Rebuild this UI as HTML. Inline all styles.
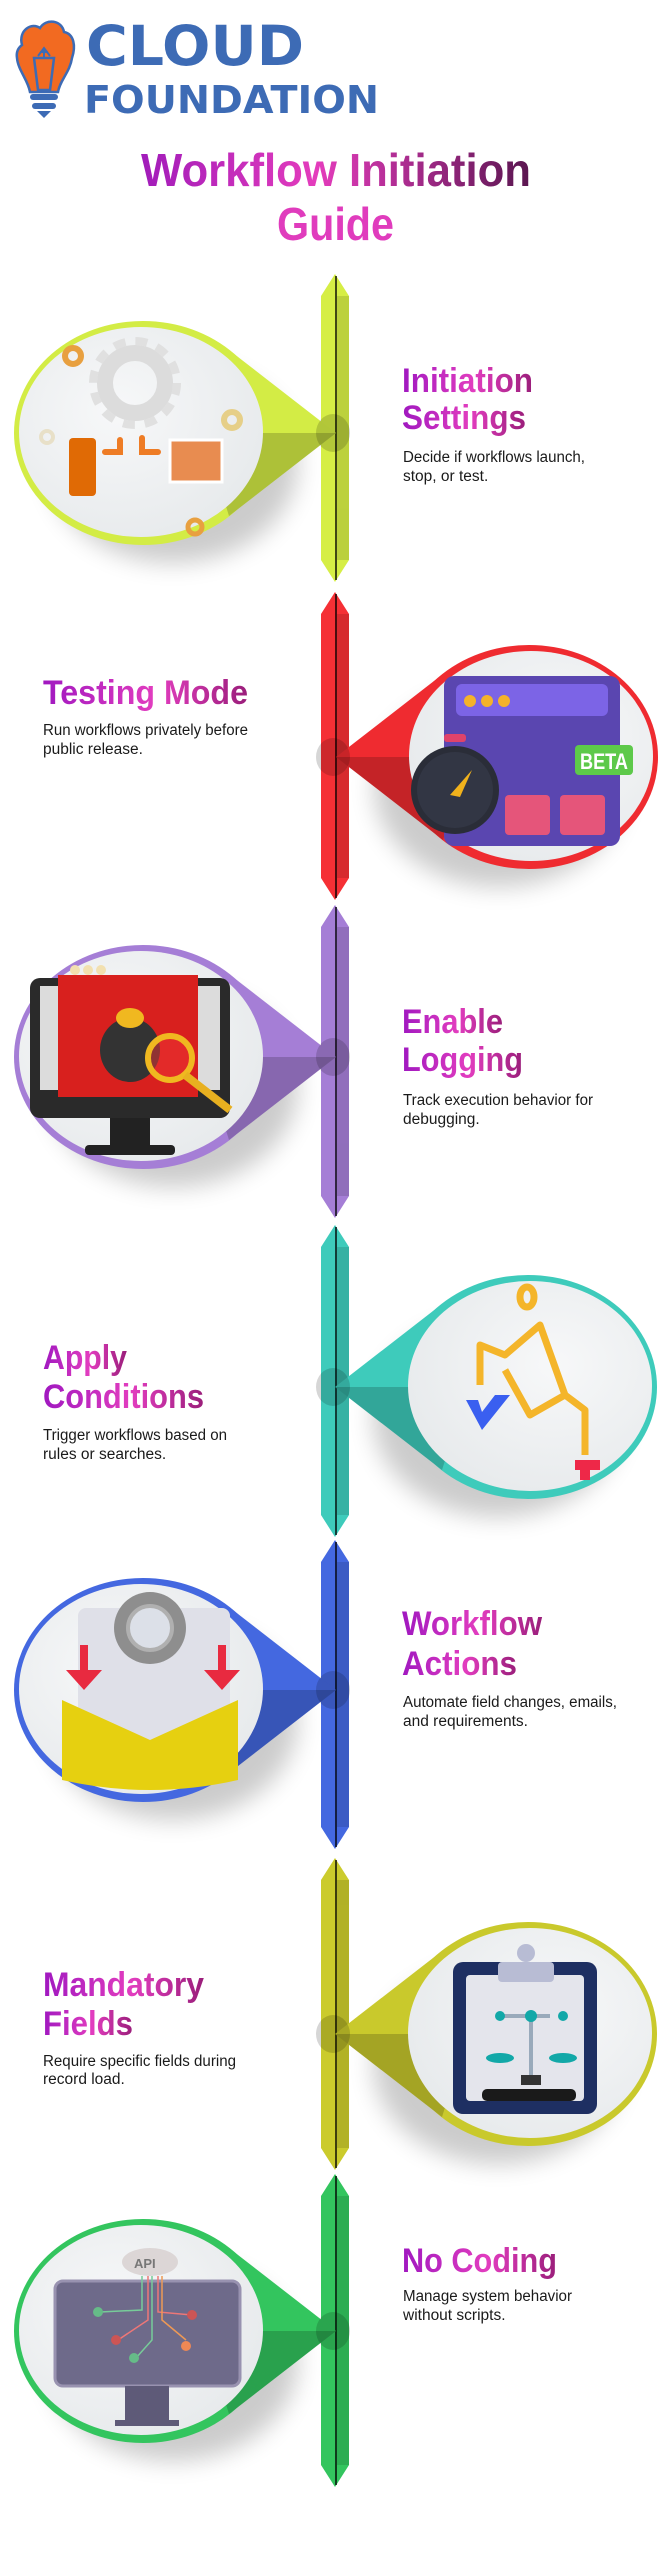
<!DOCTYPE html>
<html><head><meta charset="utf-8"><style>
html,body{margin:0;padding:0;background:#fff}
svg{display:block}
.h{font-family:"Liberation Sans",sans-serif;font-weight:bold;font-size:34px}
.d{font-family:"Liberation Sans",sans-serif;font-size:15.5px;fill:#1a1a1a}
</style></head><body>
<svg width="668" height="2560" viewBox="0 0 668 2560" xmlns="http://www.w3.org/2000/svg">
<defs>
<linearGradient id="tg" x1="0" y1="0" x2="1" y2="0">
<stop offset="0" stop-color="#a11cba"/><stop offset="0.45" stop-color="#e43cbc"/><stop offset="1" stop-color="#5a1650"/>
</linearGradient>
<linearGradient id="hg" x1="0" y1="0" x2="1" y2="0">
<stop offset="0" stop-color="#a018c0"/><stop offset="0.55" stop-color="#e23dbf"/><stop offset="1" stop-color="#9a1e7a"/>
</linearGradient>
<radialGradient id="in" cx="0.4" cy="0.4" r="0.7">
<stop offset="0" stop-color="#f7f8f9"/><stop offset="1" stop-color="#e6e9eb"/>
</radialGradient>
<filter id="sh" x="-30%" y="-30%" width="160%" height="170%"><feGaussianBlur stdDeviation="12"/></filter>
<g id="bub">
<ellipse cx="30" cy="30" rx="125" ry="100" fill="#000" opacity="0.2" filter="url(#sh)"/>
<ellipse cx="0" cy="0" rx="129" ry="112" fill="currentColor"/>
<path d="M86,-83 L193,0 L86,83 Z" fill="currentColor"/>
<path d="M193,0 L86,83 L60,0 Z" fill="#000" opacity="0.18"/>
<ellipse cx="-2" cy="-1" rx="122" ry="105" fill="url(#in)"/>
</g>
</defs>

<!-- Logo -->
<path d="M22,45 C18,30 32,22 40,28 C46,18 62,20 64,32 C74,34 76,46 72,58 C70,72 60,80 58,92 L30,92 C28,80 18,70 17,58 C16,52 18,48 22,45 Z" fill="#f26a21" stroke="#3d6bb5" stroke-width="2.5"/>
<path d="M34,58 L54,58 L50,90 L38,90 Z" fill="none" stroke="#3d6bb5" stroke-width="2.5"/>
<path d="M38,56 L44,48 L50,56 M44,48 L44,58 M40,52 L48,52" stroke="#3d6bb5" stroke-width="2" fill="none"/>
<rect x="30" y="94" width="28" height="6" rx="3" fill="#3d6bb5"/>
<rect x="32" y="103" width="24" height="6" rx="3" fill="#3d6bb5"/>
<path d="M37,111 L51,111 L44,118 Z" fill="#3d6bb5"/>
<text x="86" y="65" font-family="'DejaVu Sans','Liberation Sans',sans-serif" font-weight="bold" font-size="55" fill="#3d6bb5" textLength="218" lengthAdjust="spacingAndGlyphs">CLOUD</text>
<text x="84" y="113" font-family="'DejaVu Sans','Liberation Sans',sans-serif" font-weight="bold" font-size="38" fill="#3d6bb5" textLength="295" lengthAdjust="spacingAndGlyphs">FOUNDATION</text>

<!-- Title -->
<text x="141" y="186" font-family="'Liberation Sans',sans-serif" font-weight="bold" font-size="46" fill="url(#tg)" textLength="390" lengthAdjust="spacingAndGlyphs">Workflow Initiation</text>
<text x="277" y="240" font-family="'Liberation Sans',sans-serif" font-weight="bold" font-size="46" fill="#e03cbd" textLength="117" lengthAdjust="spacingAndGlyphs">Guide</text>

<!-- Bars -->
<g>
<polygon points="321,296 335,274 349,296 349,560 335,582 321,560" fill="#d6ee45"/>
<polygon points="321,614 335,592 349,614 349,878 335,900 321,878" fill="#f53035"/>
<polygon points="321,927 335,905 349,927 349,1196 335,1218 321,1196" fill="#a57ed6"/>
<polygon points="321,1247 335,1225 349,1247 349,1515 335,1537 321,1515" fill="#3ecbbb"/>
<polygon points="321,1562 335,1540 349,1562 349,1827 335,1849 321,1827" fill="#4468e0"/>
<polygon points="321,1880 335,1858 349,1880 349,2148 335,2170 321,2148" fill="#cbcb2c"/>
<polygon points="321,2196 335,2174 349,2196 349,2465 335,2487 321,2465" fill="#33c55e"/>
</g>
<g fill="#000" opacity="0.7">
<rect x="335" y="276" width="2" height="304"/><rect x="335" y="594" width="2" height="304"/>
<rect x="335" y="907" width="2" height="309"/><rect x="335" y="1227" width="2" height="308"/>
<rect x="335" y="1542" width="2" height="305"/><rect x="335" y="1860" width="2" height="308"/>
<rect x="335" y="2176" width="2" height="309"/>
</g>
<g fill="#000" opacity="0.12">
<rect x="337" y="296" width="12" height="264"/><rect x="337" y="614" width="12" height="264"/>
<rect x="337" y="927" width="12" height="269"/><rect x="337" y="1247" width="12" height="268"/>
<rect x="337" y="1562" width="12" height="265"/><rect x="337" y="1880" width="12" height="268"/>
<rect x="337" y="2196" width="12" height="269"/>
</g>

<!-- Bubbles -->
<use href="#bub" transform="translate(143,433)" color="#d3ec45"/>
<use href="#bub" transform="translate(529,757) scale(-1,1)" color="#ef2b30"/>
<use href="#bub" transform="translate(143,1057)" color="#a57ed6"/>
<use href="#bub" transform="translate(528,1387) scale(-1,1)" color="#3ecbbb"/>
<use href="#bub" transform="translate(143,1690)" color="#4468e0"/>
<use href="#bub" transform="translate(528,2034) scale(-1,1)" color="#c9c92c"/>
<use href="#bub" transform="translate(143,2331)" color="#33c55e"/>

<!-- Pointer dots -->
<g fill="#000" opacity="0.16">
<ellipse cx="333" cy="433" rx="17" ry="19"/><ellipse cx="333" cy="757" rx="17" ry="19"/>
<ellipse cx="333" cy="1057" rx="17" ry="19"/><ellipse cx="333" cy="1387" rx="17" ry="19"/>
<ellipse cx="333" cy="1690" rx="17" ry="19"/><ellipse cx="333" cy="2034" rx="17" ry="19"/>
<ellipse cx="333" cy="2331" rx="17" ry="19"/>
</g>

<!-- Icon 1 -->
<circle cx="135" cy="383" r="30" fill="none" stroke="#dcdcdc" stroke-width="16"/>
<circle cx="135" cy="383" r="42" fill="none" stroke="#e0e0e0" stroke-width="8" stroke-dasharray="12 10"/>
<circle cx="73" cy="356" r="8" fill="none" stroke="#e8a040" stroke-width="6"/>
<circle cx="232" cy="420" r="8" fill="none" stroke="#e6cf88" stroke-width="6"/>
<circle cx="47" cy="437" r="6" fill="none" stroke="#e8e0c8" stroke-width="4"/>
<circle cx="195" cy="527" r="7" fill="none" stroke="#e8a040" stroke-width="5"/>
<rect x="69" y="438" width="27" height="58" rx="4" fill="#e06a05"/>
<path d="M105,452 L120,452 L120,440 M142,438 L142,452 L158,452" stroke="#ee7c25" stroke-width="6" fill="none" stroke-linecap="round"/>
<rect x="170" y="440" width="52" height="42" fill="#e88c50" stroke="#fff" stroke-width="3"/>

<!-- Icon 2 -->
<rect x="444" y="676" width="176" height="170" rx="10" fill="#5a46b0"/>
<rect x="456" y="684" width="152" height="32" rx="6" fill="#7c64e6"/>
<circle cx="470" cy="701" r="6" fill="#f4b22a"/><circle cx="487" cy="701" r="6" fill="#f4b22a"/><circle cx="504" cy="701" r="6" fill="#f4b22a"/>
<rect x="505" y="795" width="45" height="40" rx="4" fill="#e5557a"/><rect x="560" y="795" width="45" height="40" rx="4" fill="#e5557a"/>
<circle cx="455" cy="790" r="44" fill="#2a2d38"/><circle cx="455" cy="790" r="38" fill="#323644"/>
<rect x="444" y="734" width="22" height="8" rx="3" fill="#e0436a"/>
<path d="M450,795 L472,770 L460,797 Z" fill="#f1b21c"/>
<rect x="575" y="745" width="58" height="30" rx="4" fill="#5dc94a"/>
<text x="580" y="769" font-family="'Liberation Sans',sans-serif" font-weight="bold" font-size="22" fill="#fff" textLength="48" lengthAdjust="spacingAndGlyphs">BETA</text>

<!-- Icon 3 -->
<rect x="30" y="978" width="200" height="140" rx="10" fill="#2a2a2a"/>
<rect x="40" y="986" width="180" height="104" fill="#dcdcdc"/>
<rect x="58" y="975" width="140" height="122" fill="#d8201e"/>
<circle cx="75" cy="970" r="5" fill="#f2e0b0"/><circle cx="88" cy="970" r="5" fill="#f2e0b0"/><circle cx="101" cy="970" r="5" fill="#f2e0b0"/>
<ellipse cx="130" cy="1050" rx="30" ry="32" fill="#333"/>
<ellipse cx="130" cy="1018" rx="14" ry="10" fill="#f0b820"/>
<circle cx="170" cy="1058" r="22" fill="#e33" fill-opacity="0.5" stroke="#f0b820" stroke-width="6"/>
<path d="M185,1075 L230,1110" stroke="#e8b020" stroke-width="8"/>
<rect x="110" y="1118" width="40" height="30" fill="#222"/><rect x="85" y="1145" width="90" height="10" rx="4" fill="#222"/>

<!-- Icon 4 -->
<g fill="none" stroke="#f4b52a" stroke-width="7" stroke-linejoin="round">
<ellipse cx="527" cy="1297" rx="7" ry="10"/>
<path d="M480,1385 L480,1345 L505,1355 L540,1325 L565,1395 L530,1415 L505,1370 M565,1395 L585,1410 L585,1455"/>
</g>
<path d="M466,1400 L482,1430 L510,1395 L495,1395 L482,1412 L478,1400 Z" fill="#3a5ff0"/>
<path d="M575,1460 L600,1460 L600,1470 L590,1470 L590,1480 L580,1480 L580,1470 L575,1470 Z" fill="#ee2848"/>

<!-- Icon 5 -->
<rect x="78" y="1608" width="152" height="150" rx="8" fill="#dfe0e8"/>
<path d="M62,1700 L150,1740 L238,1700 L238,1780 Q150,1800 62,1780 Z" fill="#e6d010"/>
<circle cx="150" cy="1628" r="36" fill="#8e8e8e"/><circle cx="150" cy="1628" r="22" fill="#dce0e8" stroke="#b0b0b0" stroke-width="4"/>
<path d="M80,1645 L80,1670 L66,1670 L84,1690 L102,1670 L88,1670 L88,1645 Z" fill="#e82a40"/>
<path d="M218,1645 L218,1670 L204,1670 L222,1690 L240,1670 L226,1670 L226,1645 Z" fill="#e82a40"/>

<!-- Icon 6 -->
<rect x="453" y="1962" width="144" height="152" rx="10" fill="#1e2f62"/>
<rect x="466" y="1975" width="118" height="126" rx="4" fill="#e4e5ec"/>
<rect x="498" y="1962" width="56" height="20" rx="4" fill="#b8bcd4"/>
<circle cx="526" cy="1953" r="9" fill="#b8bcd4"/>
<path d="M500,2016 L550,2016 M531,2016 L531,2075" stroke="#9ab" stroke-width="4"/>
<circle cx="531" cy="2016" r="6" fill="#12a8a8"/><circle cx="500" cy="2016" r="5" fill="#12a8a8"/><circle cx="563" cy="2016" r="5" fill="#12a8a8"/>
<ellipse cx="500" cy="2058" rx="14" ry="5" fill="#12a8a8"/><ellipse cx="563" cy="2058" rx="14" ry="5" fill="#12a8a8"/>
<rect x="521" y="2075" width="20" height="10" fill="#333"/>
<rect x="482" y="2089" width="94" height="12" rx="5" fill="#1a1a1a"/>

<!-- Icon 7 -->
<rect x="55" y="2281" width="185" height="105" rx="8" fill="#6e6a8a" stroke="#9892b0" stroke-width="3"/>
<rect x="125" y="2386" width="44" height="36" fill="#5e5a78"/>
<rect x="115" y="2420" width="64" height="6" fill="#5e5a78"/>
<ellipse cx="150" cy="2262" rx="28" ry="14" fill="#dcd6d6"/>
<text x="134" y="2268" font-family="'Liberation Sans',sans-serif" font-weight="bold" font-size="13" fill="#777">API</text>
<g fill="none" stroke-width="1.5">
<path d="M142,2276 L142,2310 L100,2312" stroke="#7c9"/><path d="M148,2276 L148,2320 L118,2340" stroke="#e77"/>
<path d="M152,2276 L152,2340 L136,2358" stroke="#7c9"/><path d="M158,2276 L158,2312 L192,2315" stroke="#e77"/>
<path d="M162,2276 L162,2320 L186,2340" stroke="#e95"/>
</g>
<circle cx="98" cy="2312" r="5" fill="#6b8"/><circle cx="116" cy="2340" r="5" fill="#c55"/><circle cx="134" cy="2358" r="5" fill="#6b8"/>
<circle cx="192" cy="2315" r="5" fill="#c55"/><circle cx="186" cy="2346" r="5" fill="#e85"/>

<!-- Text -->
<text class="h" x="402" y="392" fill="url(#hg)" textLength="131" lengthAdjust="spacingAndGlyphs">Initiation</text>
<text class="h" x="402" y="429" fill="url(#hg)" textLength="124" lengthAdjust="spacingAndGlyphs">Settings</text>
<text class="d" x="403" y="462" textLength="182" lengthAdjust="spacingAndGlyphs">Decide if workflows launch,</text>
<text class="d" x="403" y="481">stop, or test.</text>

<text class="h" x="43" y="704" fill="url(#hg)" textLength="205" lengthAdjust="spacingAndGlyphs">Testing Mode</text>
<text class="d" x="43" y="735" textLength="205" lengthAdjust="spacingAndGlyphs">Run workflows privately before</text>
<text class="d" x="43" y="754">public release.</text>

<text class="h" x="402" y="1033" fill="url(#hg)" textLength="101" lengthAdjust="spacingAndGlyphs">Enable</text>
<text class="h" x="402" y="1071" fill="url(#hg)" textLength="121" lengthAdjust="spacingAndGlyphs">Logging</text>
<text class="d" x="403" y="1105" textLength="190" lengthAdjust="spacingAndGlyphs">Track execution behavior for</text>
<text class="d" x="403" y="1124">debugging.</text>

<text class="h" x="43" y="1369" fill="url(#hg)" textLength="84" lengthAdjust="spacingAndGlyphs">Apply</text>
<text class="h" x="43" y="1408" fill="url(#hg)" textLength="161" lengthAdjust="spacingAndGlyphs">Conditions</text>
<text class="d" x="43" y="1440" textLength="184" lengthAdjust="spacingAndGlyphs">Trigger workflows based on</text>
<text class="d" x="43" y="1459">rules or searches.</text>

<text class="h" x="402" y="1635" fill="url(#hg)" textLength="140" lengthAdjust="spacingAndGlyphs">Workflow</text>
<text class="h" x="402" y="1675" fill="url(#hg)" textLength="115" lengthAdjust="spacingAndGlyphs">Actions</text>
<text class="d" x="403" y="1707" textLength="214" lengthAdjust="spacingAndGlyphs">Automate field changes, emails,</text>
<text class="d" x="403" y="1726">and requirements.</text>

<text class="h" x="43" y="1996" fill="url(#hg)" textLength="161" lengthAdjust="spacingAndGlyphs">Mandatory</text>
<text class="h" x="43" y="2035" fill="url(#hg)" textLength="90" lengthAdjust="spacingAndGlyphs">Fields</text>
<text class="d" x="43" y="2066" textLength="193" lengthAdjust="spacingAndGlyphs">Require specific fields during</text>
<text class="d" x="43" y="2084">record load.</text>

<text class="h" x="402" y="2272" fill="url(#hg)" textLength="155" lengthAdjust="spacingAndGlyphs">No Coding</text>
<text class="d" x="403" y="2301" textLength="169" lengthAdjust="spacingAndGlyphs">Manage system behavior</text>
<text class="d" x="403" y="2320">without scripts.</text>
</svg>
</body></html>
